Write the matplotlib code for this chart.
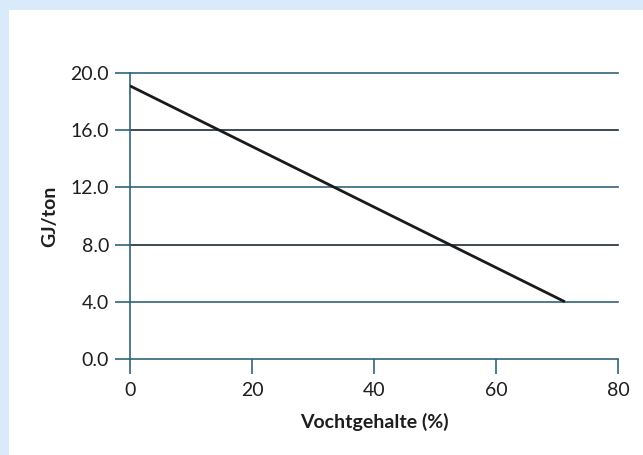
import matplotlib.pyplot as plt
from matplotlib.patches import Rectangle

# data
moisture = [0, 71.3]        # Vochtgehalte (%)
energy = [19.1, 4.0]        # GJ/ton
y_ticks = [0, 4, 8, 12, 16, 20]
y_tick_labels = ["0.0", "4.0", "8.0", "12.0", "16.0", "20.0"]
x_ticks = [0, 20, 40, 60, 80]

SLATE = "#33637a"
DARK = "#1d2b34"
grid_colors = [SLATE, SLATE, DARK, SLATE, DARK, SLATE]

plt.rcParams["font.family"] = ["Lato", "DejaVu Sans"]

fig = plt.figure(figsize=(6.43, 4.55), dpi=100)
fig.patch.set_facecolor("white")

# light blue frame on the left and top
fig.add_artist(Rectangle((0, 0), 9 / 643, 1, transform=fig.transFigure,
                         color="#d9ebfa", lw=0, zorder=0))
fig.add_artist(Rectangle((0, 1 - 10 / 455), 1, 10 / 455, transform=fig.transFigure,
                         color="#d9ebfa", lw=0, zorder=0))

ax = fig.add_axes([130 / 643, 1 - 359 / 455, 488 / 643, 286 / 455])
ax.set_xlim(0, 80)
ax.set_ylim(0, 20)

for yv, c in zip(y_ticks, grid_colors):
    ax.axhline(yv, color=c, lw=1.2, zorder=1, clip_on=False)

ax.plot(moisture, energy, color="#1a1a1a", lw=2.0, zorder=3, solid_capstyle="butt")

for s in ["top", "right", "bottom"]:
    ax.spines[s].set_visible(False)
ax.spines["left"].set_color(SLATE)
ax.spines["left"].set_linewidth(1.2)

ax.set_yticks(y_ticks)
ax.set_yticklabels(y_tick_labels)
ax.set_xticks(x_ticks)
ax.tick_params(axis="y", length=11, width=1.2, color=SLATE, pad=4,
               labelsize=14, labelcolor="#1e1e1e")
ax.tick_params(axis="x", length=10.5, width=1.2, color=SLATE, pad=6,
               labelsize=14, labelcolor="#1e1e1e")

ax.set_xlabel("Vochtgehalte (%)", fontsize=14, fontweight="bold",
              color="#1e1e1e", labelpad=10)
ax.set_ylabel("GJ/ton", fontsize=14, fontweight="bold",
              color="#1e1e1e", labelpad=9)

fig.savefig("out.png", dpi=100)
